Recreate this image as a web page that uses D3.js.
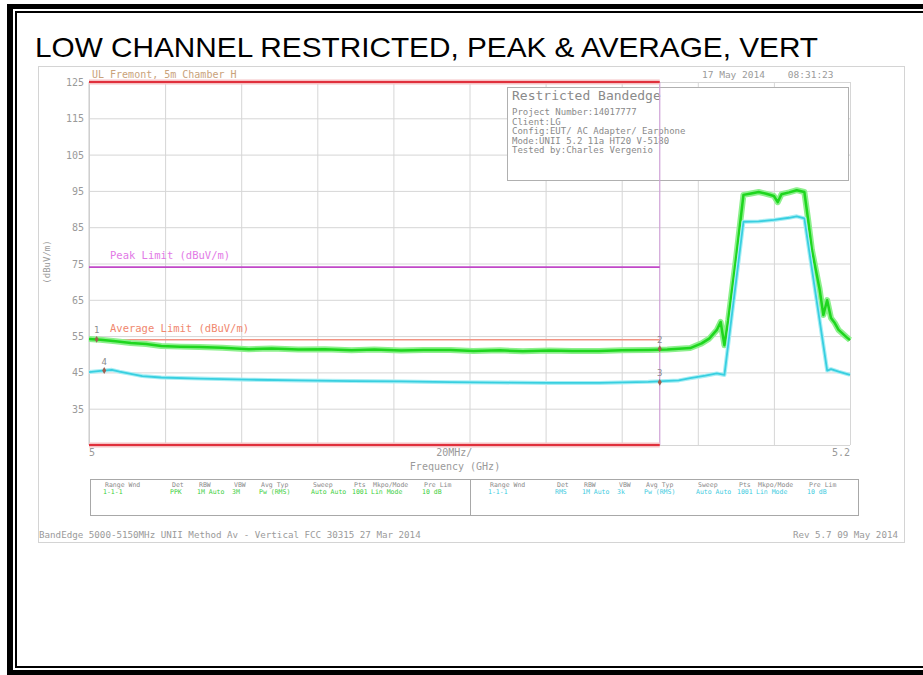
<!DOCTYPE html>
<html>
<head>
<meta charset="utf-8">
<script src="https://cdn.jsdelivr.net/npm/d3@7"></script>
<style>
    body { margin: 0; background: white; }
    svg { display: block; }
    .title { font-family: Arial, "Liberation Sans", sans-serif; font-size: 28px; fill: #000; }
    .mono { font-family: "DejaVu Sans Mono", monospace; }
    .grid line { stroke: #d6d6d6; stroke-width: 1; }
    .grid path { display: none; }
    .ylab text { fill: #9a9a9a; font-family: "DejaVu Sans Mono", monospace; font-size: 10px; }
</style>
</head>
<body>
<svg id="chart" width="923" height="675"></svg>
<script>
// chart data
const title = "LOW CHANNEL RESTRICTED, PEAK & AVERAGE, VERT"
const yTicks = [125, 115, 105, 95, 85, 75, 65, 55, 45, 35]
const yGrid = [125, 115, 105, 95, 85, 75, 65, 55, 45, 35, 25]
const xGrid = [5000, 5020, 5040, 5060, 5080, 5100, 5120, 5140, 5160, 5180, 5200]
const xLabelText = ["5", "20MHz/", "5.2"]
const xLabelFreq = [5000, 5096, 5200]

// peak trace (MHz, dBuV/m)
const peakFreq = [5000, 5003, 5007, 5011, 5015, 5019, 5024, 5029, 5035, 5042, 5048, 5055, 5062, 5069, 5075,
    5082, 5088, 5095, 5101, 5108, 5114, 5121, 5127, 5134, 5140, 5147, 5152, 5158, 5161, 5163, 5165, 5166,
    5167, 5168, 5170, 5172, 5174, 5176, 5178, 5180, 5181, 5182, 5184, 5186, 5188, 5189, 5190, 5192, 5193,
    5194, 5195, 5196, 5197, 5199, 5200]
const peakLevel = [54.2, 54.0, 53.6, 53.1, 52.8, 52.3, 52.1, 52.0, 51.8, 51.4, 51.6, 51.3, 51.4, 51.1, 51.3,
    51.0, 51.2, 51.2, 50.9, 51.1, 50.8, 51.0, 50.9, 50.9, 51.1, 51.2, 51.3, 51.7, 53.0, 54.3, 56.7, 58.9,
    52.5, 59.4, 76.0, 93.9, 94.3, 94.7, 94.2, 93.6, 91.9, 94.1, 94.6, 95.2, 94.7, 87.0, 78.7, 68.0, 60.8,
    64.9, 60.0, 58.6, 56.7, 54.8, 53.9]

// average trace (MHz, dBuV/m)
const avgFreq = [5000, 5003, 5006, 5008, 5011, 5014, 5019, 5029, 5042, 5055, 5069, 5082, 5095, 5108, 5121,
    5134, 5147, 5155, 5158, 5162, 5165, 5167, 5172, 5176, 5180, 5184, 5186, 5188, 5194, 5195, 5197, 5200]
const avgLevel = [45.1, 45.4, 45.7, 45.2, 44.6, 44.0, 43.6, 43.3, 43.0, 42.8, 42.6, 42.5, 42.3, 42.2, 42.1,
    42.1, 42.4, 42.8, 43.4, 44.1, 44.7, 44.3, 86.5, 86.6, 87.0, 87.6, 88.0, 87.4, 45.5, 45.9, 45.2, 44.3]

// limits / restricted band
const bandStart = 5000
const bandStop = 5150
const restrictedLevels = [125, 25]
const peakLimit = 74
const avgLimit = 54

// markers
const markerNames = ["1", "2", "3", "4"]
const markerFreq = [5002, 5150, 5150, 5004]
const markerLevel = [54.1, 51.5, 42.3, 45.5]

// screen texts
const headerLeft = "UL Fremont, 5m Chamber H"
const headerRight = "17 May 2014    08:31:23"
const infoTitle = "Restricted Bandedge"
const infoLines = ["Project Number:14017777", "Client:LG", "Config:EUT/ AC Adapter/ Earphone",
    "Mode:UNII 5.2 11a HT20 V-5180", "Tested by:Charles Vergenio"]
const tableHeads = ["Range Wnd", "Det", "RBW", "VBW", "Avg Typ", "Sweep", "Pts", "Mkpo/Mode", "Pre Lim"]
const peakSettings = ["1-1-1", "PPK", "1M Auto", "3M", "Pw (RMS)", "Auto Auto", "1001", "Lin Mode", "10 dB"]
const avgSettings = ["1-1-1", "RMS", "1M Auto", "3k", "Pw (RMS)", "Auto Auto", "1001", "Lin Mode", "10 dB"]
const footerLeft = "BandEdge 5000-5150MHz UNII Method Av - Vertical FCC 30315 27 Mar 2014"
const footerRight = "Rev 5.7 09 May 2014"

const svg = d3.select("#chart")

// page double border
function drawBorder() {
    svg.append("rect").attr("x", 7).attr("y", 4).attr("width", 916).attr("height", 5).attr("fill", "#000")
    svg.append("rect").attr("x", 7).attr("y", 4).attr("width", 6).attr("height", 671).attr("fill", "#000")
    svg.append("rect").attr("x", 7).attr("y", 670).attr("width", 916).attr("height", 5).attr("fill", "#000")
    svg.append("rect").attr("x", 15).attr("y", 11).attr("width", 908).attr("height", 2).attr("fill", "#000")
    svg.append("rect").attr("x", 15).attr("y", 11).attr("width", 2).attr("height", 657).attr("fill", "#000")
    svg.append("rect").attr("x", 15).attr("y", 666).attr("width", 908).attr("height", 2).attr("fill", "#000")
}

function getConfig() {
    let margin = { left: 89, right: 850, top: 82, bottom: 445 }
    let x = d3.scaleLinear().domain([5000, 5200]).range([margin.left, margin.right])
    let y = d3.scaleLinear().domain([25, 125]).range([margin.bottom, margin.top])
    return { margin, x, y }
}

function drawScreen(config) {
    let { margin, x, y } = config
    // screenshot frame
    svg.append("rect").attr("x", 38.5).attr("y", 66.5).attr("width", 866).attr("height", 476)
        .attr("fill", "#fff").attr("stroke", "#d4d4d4")

    // grid
    svg.append("g").attr("class", "grid")
        .attr("transform", `translate(0,${margin.bottom})`)
        .call(d3.axisBottom(x).tickValues(xGrid).tickSize(-(margin.bottom - margin.top)).tickFormat(""))
    let yAxis = svg.append("g").attr("class", "grid ylab")
        .attr("transform", `translate(${margin.left},0)`)
        .call(d3.axisLeft(y).tickValues(yGrid).tickSize(-(margin.right - margin.left)).tickPadding(5)
            .tickFormat(d => yTicks.includes(d) ? d : ""))
    yAxis.selectAll("text").attr("dy", "0.35em")
    svg.append("line").attr("x1", margin.left).attr("x2", margin.left)
        .attr("y1", margin.top).attr("y2", margin.bottom).attr("stroke", "#c8c8c8")

    svg.append("text").attr("class", "mono").attr("transform", "translate(50,262) rotate(-90)")
        .attr("text-anchor", "middle").attr("font-size", 9).attr("fill", "#9a9a9a").text("(dBuV/m)")

    svg.append("text").attr("class", "mono").attr("x", 92).attr("y", 78)
        .attr("font-size", 10).attr("fill", "#c9a27a").text(headerLeft)
    svg.append("text").attr("class", "mono").attr("x", 702).attr("y", 78)
        .attr("font-size", 9.5).attr("fill", "#9a9a9a").attr("xml:space", "preserve").text(headerRight)

    xLabelText.forEach((t, i) => {
        svg.append("text").attr("class", "mono").attr("x", x(xLabelFreq[i])).attr("y", 456)
            .attr("text-anchor", i == 0 ? "start" : (i == 2 ? "end" : "middle"))
            .attr("font-size", 10).attr("fill", "#9a9a9a").text(t)
    })
    svg.append("text").attr("class", "mono").attr("x", 455).attr("y", 470).attr("text-anchor", "middle")
        .attr("font-size", 10).attr("fill", "#9a9a9a").text("Frequency (GHz)")
}

function drawLimits(config) {
    let { x, y } = config
    // vertical band edge line
    svg.append("line").attr("x1", x(bandStop)).attr("x2", x(bandStop))
        .attr("y1", y(125)).attr("y2", y(25)).attr("stroke", "#cfa2d6").attr("stroke-width", 1.2)
    restrictedLevels.forEach(v => {
        svg.append("line").attr("x1", x(bandStart)).attr("x2", x(bandStop)).attr("y1", y(v)).attr("y2", y(v))
            .attr("stroke", "#f6c2c4").attr("stroke-width", 5)
        svg.append("line").attr("x1", x(bandStart)).attr("x2", x(bandStop)).attr("y1", y(v)).attr("y2", y(v))
            .attr("stroke", "#e0303c").attr("stroke-width", 2.2)
    })
    svg.append("line").attr("x1", x(bandStart)).attr("x2", x(bandStop))
        .attr("y1", y(peakLimit)).attr("y2", y(peakLimit)).attr("stroke", "#c048c8").attr("stroke-width", 1.8)
    svg.append("line").attr("x1", x(bandStart)).attr("x2", x(bandStop))
        .attr("y1", y(avgLimit)).attr("y2", y(avgLimit)).attr("stroke", "#f29484").attr("stroke-width", 1.6)
    svg.append("text").attr("class", "mono").attr("x", 110).attr("y", y(peakLimit) - 8)
        .attr("font-size", 10.5).attr("fill", "#e27ae6").text("Peak Limit (dBuV/m)")
    svg.append("text").attr("class", "mono").attr("x", 110).attr("y", y(avgLimit) - 8)
        .attr("font-size", 10.5).attr("fill", "#f0876e").text("Average Limit (dBuV/m)")
}

function drawTraces(config) {
    let { x, y } = config
    let line = d3.line().x(d => x(d[0])).y(d => y(d[1]))
    let peak = peakFreq.map((f, i) => [f, peakLevel[i]])
    let avg = avgFreq.map((f, i) => [f, avgLevel[i]])
    svg.append("path").datum(peak).attr("d", line).attr("fill", "none")
        .attr("stroke", "#8df08d").attr("stroke-width", 6).attr("stroke-linejoin", "round")
    svg.append("path").datum(peak).attr("d", line).attr("fill", "none")
        .attr("stroke", "#1ed61e").attr("stroke-width", 2.5).attr("stroke-linejoin", "round")
    svg.append("path").datum(avg).attr("d", line).attr("fill", "none")
        .attr("stroke", "#a8eef4").attr("stroke-width", 4).attr("stroke-linejoin", "round")
    svg.append("path").datum(avg).attr("d", line).attr("fill", "none")
        .attr("stroke", "#38cfe0").attr("stroke-width", 1.8).attr("stroke-linejoin", "round")

    markerNames.forEach((m, i) => {
        let px = x(markerFreq[i]), py = y(markerLevel[i])
        svg.append("path").attr("d", d3.symbol(d3.symbolDiamond, 14)())
            .attr("transform", `translate(${px},${py})`).attr("fill", "#a06050")
        svg.append("text").attr("class", "mono").attr("x", px).attr("y", py - 6).attr("text-anchor", "middle")
            .attr("font-size", 9).attr("fill", "#8a8a8a").text(m)
    })
}

function drawInfoBox() {
    svg.append("rect").attr("x", 507.5).attr("y", 87.5).attr("width", 341).attr("height", 93)
        .attr("fill", "#fff").attr("stroke", "#b0b0b0")
    svg.append("text").attr("class", "mono").attr("x", 512).attr("y", 100)
        .attr("font-size", 13).attr("fill", "#8a8a8a").text(infoTitle)
    infoLines.forEach((t, i) => {
        svg.append("text").attr("class", "mono").attr("x", 512).attr("y", 115 + i * 9.6)
            .attr("font-size", 9).attr("fill", "#8a8a8a").text(t)
    })
}

function drawSettingsTable() {
    svg.append("rect").attr("x", 90.5).attr("y", 479.5).attr("width", 768).attr("height", 36)
        .attr("fill", "#fff").attr("stroke", "#a8a8a8")
    svg.append("line").attr("x1", 470.5).attr("x2", 470.5).attr("y1", 479.5).attr("y2", 515.5)
        .attr("stroke", "#a8a8a8")
    let colX = [105, 172, 199, 234, 261, 313, 354, 373, 424]
    let groups = [{ dx: 0, vals: peakSettings, color: "#3ccf3c" }, { dx: 385, vals: avgSettings, color: "#40cbe0" }]
    groups.forEach(g => {
        tableHeads.forEach((h, i) => {
            svg.append("text").attr("class", "mono").attr("x", colX[i] + g.dx).attr("y", 487)
                .attr("font-size", 6.5).attr("fill", "#8a8a8a").text(h)
            svg.append("text").attr("class", "mono").attr("x", colX[i] + g.dx - 2).attr("y", 494)
                .attr("font-size", 6.5).attr("fill", g.color).text(g.vals[i])
        })
    })
    svg.append("text").attr("class", "mono").attr("x", 39).attr("y", 538)
        .attr("font-size", 9.2).attr("fill", "#9a9a9a").text(footerLeft)
    svg.append("text").attr("class", "mono").attr("x", 898).attr("y", 538).attr("text-anchor", "end")
        .attr("font-size", 9.2).attr("fill", "#9a9a9a").text(footerRight)
}

drawBorder()
svg.append("text").attr("class", "title").attr("x", 35).attr("y", 57)
    .attr("textLength", 783).attr("lengthAdjust", "spacingAndGlyphs").text(title)
let config = getConfig()
drawScreen(config)
drawInfoBox()
drawLimits(config)
drawTraces(config)
drawSettingsTable()
</script>
</body>
</html>
